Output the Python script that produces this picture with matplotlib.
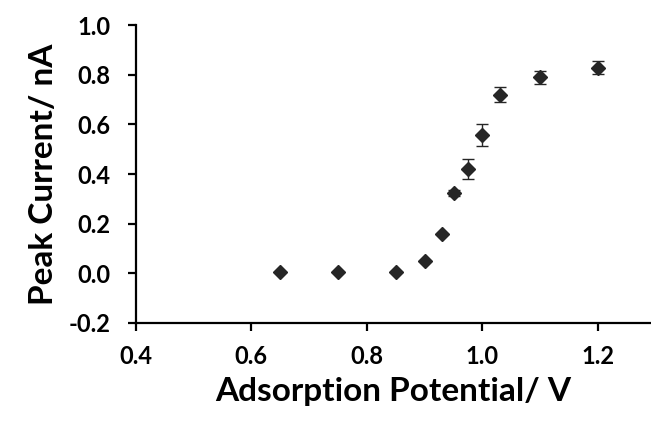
import matplotlib
matplotlib.use("Agg")
import matplotlib.pyplot as plt

potential = [0.65, 0.75, 0.85, 0.90, 0.93, 0.95, 0.975, 1.00, 1.03, 1.10, 1.20]
peak_current = [0.005, 0.005, 0.005, 0.048, 0.157, 0.322, 0.422, 0.558, 0.720, 0.790, 0.828]
error = [0.0, 0.0, 0.0, 0.0, 0.0, 0.012, 0.040, 0.045, 0.030, 0.027, 0.026]

plt.rcParams["font.family"] = ["Lato", "DejaVu Sans"]
plt.rcParams["font.weight"] = "bold"

fig = plt.figure(figsize=(6.51, 4.25), dpi=100)
ax = fig.add_axes([0.2085, 0.24, 0.79, 0.701])

ax.errorbar(potential, peak_current, yerr=error, fmt="D", color="#262626",
            ms=7.5, capsize=4, elinewidth=1, capthick=1)

ax.set_xlim(0.4, 1.29)
ax.set_ylim(-0.2, 1.0)
ax.set_xticks([0.4, 0.6, 0.8, 1.0, 1.2])
ax.set_yticks([-0.2, 0.0, 0.2, 0.4, 0.6, 0.8, 1.0])
ax.xaxis.set_major_formatter(matplotlib.ticker.FormatStrFormatter("%.1f"))
ax.yaxis.set_major_formatter(matplotlib.ticker.FormatStrFormatter("%.1f"))
for s in ["top", "right"]:
    ax.spines[s].set_visible(False)
for s in ["left", "bottom"]:
    ax.spines[s].set_linewidth(1.6)
ax.tick_params(width=1.6, length=6, labelsize=17)
ax.tick_params(axis="x", pad=10)
ax.tick_params(axis="y", pad=12)
ax.set_xlabel("Adsorption Potential/ V", fontsize=24, fontweight="bold", labelpad=6)
ax.set_ylabel("Peak Current/ nA", fontsize=24, fontweight="bold", labelpad=8)

fig.savefig("out.png", dpi=100)
